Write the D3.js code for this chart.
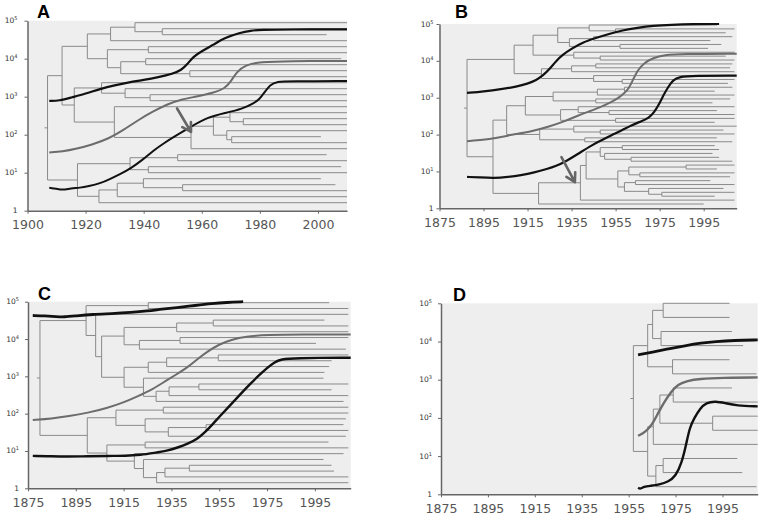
<!DOCTYPE html>
<html>
<head>
<meta charset="utf-8">
<script src="https://cdn.jsdelivr.net/npm/d3@7"></script>
<style>
body { margin: 0; background: #fff; }
svg { display: block; }
</style>
</head>
<body>
<svg id="chart" width="765" height="517"></svg>
<script>
// ---- data ----
// tree nodes: [branching year, child, child...]; leaf = year the lineage ends
const treeA = [1906.9,
  [1911.9,
    [1920.6,
      [1928.6, [1937.0, 2010, [1946.4, 2010, 2003]], 2010],
      [1927.5, [1941.6, 2010, 2010], [1932.1, [1940.7, 2008, 2010], [1955.9, 2010, 2010]]]],
    [1916.1,
      [1925.5, 2010, [1933.6, 2010, [1942.2, 2010, 2010]]],
      [1929.9, 2010, [1956.3, [1964.0, [1969.7, 2010, [1974.3, 2010, 2010]], [1968.6, 2010, [1970.3, 2001, 2010]]], 2010]]]],
  [1917.2,
    [1935.3, [1951.7, 2003, 2010], [1941.6, 2008, 2010]],
    [1924.6, [1930.9, [1939.9, 2001, [1953.4, 2006, 2010]], 2010], 2010]]];

const treeB = [1887.5,
  [1908.9,
    [1917.5,
      [1928.7, [1943, 2001, [1955, 2009, 2005]], [1934, [1945, 2008, 1998], [1957, 2003, 1997]]],
      [1936, 2009, [1948, 2005, 2009]]],
    [1921.3, [1935, [1946, 2008, 2007], 2009], [1945, 2003, [1958, 2009, 2006]]]],
  [1899.3,
    [1905.5,
      [1914,
        [1926.6, [1946.7, [1959, 2008, 2000], 2009], [1946, 2007, 1999]],
        [1930, [1938, 2009, [1952, 2001, 2009]], [1955, 2009, 2000]]],
      [1920.5, [1936, 2010, [1948, 2004, 2009]], [1941, 2001, 2008]]],
    [1920,
      [1939,
        [1941.6,
          [1948, [1958, 2000, 2002], [1950, 1999, [1962, 2002, 2008]]],
          [1956, [1961, [1987, 2009, 2001], [1966, 2009, 2007]], [1959, [1964, 1998, 2009], [1970, 2004, [1976, 2009, 2000]]]]],
        2009],
      1995]]];

const treeC = [1880.0,
  [1899.3,
    [1925.3, 2001, 2009],
    [1903.3, 2009,
      [1905.8,
        [1915.2, [1937.2, [1952.5, 1999, 2009], 2009], [1921.6, [1938.6, 2009, 1995.5], 2008]],
        [1915.2, [1925.3, [1933.0, [1954.6, 2009, 2002], 2001], 1999], [1923.3, 1998.6, [1928.6, [1934.0, [1946.5, 2009, 2002], 2009], 2007]]]]]],
  [1899.8,
    [1911.8, [1931.6, 2009, 2009], [1924.0, 2008, [1933.7, [1949.5, 2007, 2009], 2008]]],
    [1908.0, [1924.0, 2000.7, 2009], [1919.5, 2007, [1923.3, 1998.6, [1928.8, [1932.3, [1942.5, 2002, 2003], 2009], 2009]]]]]];

const treeD = [1957.0,
  [1963.1, [1965.2, [1969.7, 1998, 1998], [1968.8, 1999, 2003.8]], [1973.7, 1998, 2009.5]],
  [1963.1, [1965.5, [1968.3, [1974, 1999, 2010], [1990.8, 2010, 2010]], 2010], [1966.6, [1969.7, 2001.3, 2003.4], 2009.5]]];

// population-like curves: [year, value]
const A_top = [[1907.5,780],[1911,780],[1915,950],[1920,1200],[1925,1600],[1930,2000],[1935,2400],[1940,2750],[1945,3250],[1950,4000],[1953,5000],[1955,7100],[1957,11200],[1960,15800],[1964,23400],[1968,35500],[1973,48000],[1977,55000],[1980,57500],[1990,59000],[2010,59000]];
const A_mid = [[1907.5,34],[1912,36],[1917,43],[1922,54],[1928,79],[1933,132],[1938,240],[1943,400],[1948,630],[1953,850],[1958,1000],[1964,1260],[1968,1660],[1970,2500],[1972,4500],[1975,6800],[1980,8300],[1990,8700],[2010,8700]];
const A_low = [[1907.5,4.0],[1910,3.8],[1912,3.5],[1915,3.9],[1918,4.0],[1921,4.4],[1925,5.2],[1928.5,6.9],[1932,9.3],[1935.5,12.9],[1940,23],[1943.5,39],[1947,60],[1950.5,89],[1956,158],[1962,288],[1968,372],[1974,479],[1978,676],[1980,890],[1981.5,1260],[1983.5,2090],[1986,2510],[1990,2570],[2010,2570]];

const B_top = [[1887.5,1350],[1895,1480],[1903,1700],[1910,2000],[1915,2400],[1919,3000],[1922,4000],[1925,6000],[1928,10000],[1931,14800],[1935,21400],[1940,31600],[1946,41700],[1952,53700],[1958,67600],[1965,79400],[1972,89100],[1980,95500],[1990,100000],[2002,100000]];
const B_mid = [[1887.5,66],[1895,72],[1900,79],[1908,100],[1916,117],[1925,166],[1932,229],[1938,331],[1943,427],[1948,550],[1953,760],[1956,955],[1959,1320],[1961,1780],[1963,3160],[1965,5600],[1968,8900],[1972,12000],[1977,14500],[1985,15500],[2010,15500]];
const B_low = [[1887.5,7.1],[1893,6.9],[1900,6.6],[1906,7.1],[1912,7.9],[1918,9.3],[1924,11.7],[1928,14.1],[1932,18.2],[1938,30],[1944,51],[1949,72],[1953,95],[1958,132],[1962,178],[1967,234],[1970,282],[1972.5,400],[1975,710],[1977,1260],[1979,2000],[1981,3020],[1984,3720],[1990,3980],[2010,3980]];

const C_top = [[1877,42700],[1882,41700],[1887,39800],[1890,38900],[1895,41700],[1902,45700],[1910,47900],[1918,51300],[1925,56200],[1931,63100],[1937,69200],[1945,79400],[1952,89100],[1958,95500],[1965,100000]];
const C_mid = [[1877,68],[1885,74],[1892,85],[1900,105],[1908,141],[1915,200],[1921,295],[1927,447],[1932,708],[1937,1120],[1942,1780],[1946,2950],[1950,4570],[1955,7240],[1960,9550],[1966,11700],[1975,12900],[1990,13200],[2010,13200]];
const C_low = [[1877,7.4],[1885,7.2],[1891,7.1],[1900,7.2],[1908,7.4],[1916,7.4],[1922,7.8],[1928,8.9],[1933,10],[1938,12.6],[1942,15.8],[1946,21.4],[1949,31.6],[1952,50],[1955.5,89],[1960,178],[1964,339],[1968,631],[1972,1120],[1975,1660],[1978,2400],[1981,2880],[1986,3090],[2010,3160]];

const D_top = [[1959,4470],[1965,5250],[1972,6460],[1979,7760],[1986,9120],[1992,10000],[2000,10700],[2010,11000]];
const D_mid = [[1959,34],[1962,42],[1965,66],[1967.5,132],[1970,251],[1973,479],[1976,759],[1980,933],[1985,1050],[1995,1120],[2010,1150]];
const D_low = [[1959,1.48],[1960,1.38],[1961.5,1.58],[1964,1.66],[1968,1.78],[1972,2.14],[1975,3.0],[1977.5,6.3],[1979.5,20],[1981,56],[1983,100],[1985.5,178],[1988,251],[1992,275],[1996,245],[2001,209],[2010,200]];

// arrows: [year, value] start and tip
const arrowA = [[1951.5, 490], [1956.3, 118]];
const arrowB = [[1930.4, 24.5], [1936.5, 5.1]];

const xTicksA = [1900, 1920, 1940, 1960, 1980, 2000];
const xTicksBCD = [1875, 1895, 1915, 1935, 1955, 1975, 1995];
const yTicks = [1, 10, 100, 1000, 10000, 100000];

// ---- layout ----
const panels = [
  {name:'A', left:27.5, right:347, top:20.7, bottom:210.7, domain:[1900,2010], ticks:xTicksA,
   tree:treeA, leafTop:22.7, leafBottom:202.7, series:[A_top, A_mid, A_low], widths:[2.2,2,2],
   arrow:arrowA, letter:[37,18], yGap:10},
  {name:'B', left:439.5, right:736.7, top:24, bottom:208.3, domain:[1875,2010], ticks:xTicksBCD,
   tree:treeB, leafTop:25, leafBottom:204, series:[B_top, B_mid, B_low], widths:[2.2,2,2.2],
   arrow:arrowB, letter:[455,18], yGap:6},
  {name:'C', left:28, right:350.7, top:301.7, bottom:488.3, domain:[1875,2010], ticks:xTicksBCD,
   tree:treeC, leafTop:302.7, leafBottom:482.7, series:[C_top, C_mid, C_low], widths:[2.8,2,2.4],
   arrow:null, letter:[38,300], yGap:9},
  {name:'D', left:441, right:757.7, top:303.3, bottom:494.3, domain:[1875,2010], ticks:xTicksBCD,
   tree:treeD, leafTop:303.3, leafBottom:486.7, series:[D_top, D_mid, D_low], widths:[2.8,2.4,2.4],
   arrow:null, letter:[453,301], yGap:9}
];

const colors = ['#111', '#6c6c6c', '#111'];
const svg = d3.select('#chart');

panels.forEach(p => {
  const g = svg.append('g');

  const x = d3.scaleLinear().domain(p.domain).range([p.left, p.right]);
  const y = d3.scaleLog().domain([1, 100000]).range([p.bottom, p.top]);

  g.append('rect')
  .attr('x', p.left).attr('y', p.top)
  .attr('width', p.right - p.left).attr('height', p.bottom - p.top)
  .attr('fill', '#eeeeee');

  // tree
  const root = d3.hierarchy(p.tree, d => Array.isArray(d) ? d.slice(1) : null);
  const leaves = root.leaves();
  const ly = d3.scalePoint().domain(d3.range(leaves.length)).range([p.leafTop, p.leafBottom]);
  leaves.forEach((l, i) => l.py = ly(i));
  root.eachAfter(n => {
    if (n.children) n.py = (n.children[0].py + n.children[n.children.length - 1].py) / 2;
  });
  const nodeX = n => n.children ? x(n.data[0]) : x(Math.min(n.data, p.domain[1]));

  let path = '';
  root.each(n => {
    if (!n.children) return;
    const nx = x(n.data[0]);
    const first = n.children[0], last = n.children[n.children.length - 1];
    path += `M${nx},${first.py}V${last.py}`;
    n.children.forEach(c => { path += `M${nx},${c.py}H${nodeX(c)}`; });
  });
  path += `M${x(root.data[0]) - 3},${root.py}H${x(root.data[0])}`;

  g.append('path')
  .attr('d', path)
  .attr('fill', 'none')
  .attr('stroke', '#8a8a8a')
  .attr('stroke-width', 1);

  // curves
  const line = d3.line()
  .x(d => x(d[0]))
  .y(d => y(d[1]))
  .curve(d3.curveBasis);

  p.series.forEach((s, i) => {
    g.append('path')
    .datum(s)
    .attr('fill', 'none')
    .attr('stroke', colors[i])
    .attr('stroke-width', p.widths[i])
    .attr('stroke-linejoin', 'round')
    .attr('d', line);
  });

  // arrow
  if (p.arrow) {
    const [a, b] = p.arrow;
    const x1 = x(a[0]), y1 = y(a[1]), x2 = x(b[0]), y2 = y(b[1]);
    const ang = Math.atan2(y1 - y2, x1 - x2);
    const len = 10, spread = Math.PI / 6;
    const h1 = [x2 + len * Math.cos(ang - spread), y2 + len * Math.sin(ang - spread)];
    const h2 = [x2 + len * Math.cos(ang + spread), y2 + len * Math.sin(ang + spread)];
    g.append('path')
    .attr('d', `M${x1},${y1}L${x2},${y2}M${h1[0]},${h1[1]}L${x2},${y2}L${h2[0]},${h2[1]}`)
    .attr('fill', 'none')
    .attr('stroke', '#666')
    .attr('stroke-width', 2.6)
    .attr('stroke-linecap', 'round')
    .attr('stroke-linejoin', 'round');
  }

  // axes
  const xAxis = g.append('g')
  .attr('transform', `translate(0,${p.bottom})`)
  .call(d3.axisBottom(x).tickValues(p.ticks).tickFormat(d3.format('d')).tickSize(3).tickPadding(6.5).tickSizeOuter(0));
  xAxis.select('.domain').attr('stroke', '#666').attr('stroke-width', 1.5);
  xAxis.selectAll('.tick line').attr('stroke', '#666');
  xAxis.selectAll('text')
  .attr('fill', '#555')
  .style('font-family', 'DejaVu Sans, sans-serif')
  .style('font-size', '12.5px');

  const yAxis = g.append('g')
  .attr('transform', `translate(${p.left},0)`)
  .call(d3.axisLeft(y).tickValues(yTicks).tickFormat('').tickSize(3).tickSizeOuter(0));
  yAxis.select('.domain').attr('stroke', '#666').attr('stroke-width', 1.5);
  yAxis.selectAll('.tick line').attr('stroke', '#666');

  yTicks.forEach(v => {
    const t = g.append('text')
    .attr('x', p.left - p.yGap)
    .attr('y', y(v) + 2.5)
    .attr('text-anchor', 'end')
    .attr('fill', '#333')
    .style('font-family', 'DejaVu Sans, sans-serif')
    .style('font-size', '7.5px');
    if (v === 1) {
      t.text('1');
    } else {
      t.append('tspan').text('10');
      t.append('tspan').attr('dy', -3).style('font-size', '5px').text(Math.round(Math.log10(v)));
    }
  });

  g.append('text')
  .attr('x', p.letter[0])
  .attr('y', p.letter[1])
  .style('font-family', 'Liberation Sans, Arial, sans-serif')
  .style('font-weight', 'bold')
  .style('font-size', '18px')
  .text(p.name);
});
</script>
</body>
</html>
